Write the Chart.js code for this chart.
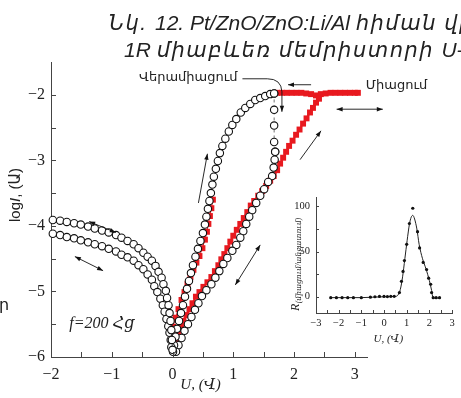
<!DOCTYPE html>
<html lang="hy">
<head>
<meta charset="UTF-8">
<title>Pt/ZnO/ZnO:Li/Al U-I</title>
<style>
  body { margin: 0; background: #fff; }
  #wrap { position: relative; width: 461px; height: 398px; overflow: hidden; background: #fff; }
  #mainChart { position: absolute; left: 0; top: 0; }
  #insetChart { position: absolute; left: 285px; top: 185px; }
</style>
</head>
<body>
<div id="wrap">
  <canvas id="mainChart" width="461" height="398"></canvas>
  <canvas id="insetChart" width="176" height="165"></canvas>
</div>
<script src="https://cdn.jsdelivr.net/npm/chart.js@4.4.1/dist/chart.umd.min.js"></script>
<script>
// negative sweep, two passes (circles)
const negUpX = [-1.97,-1.85,-1.74,-1.62,-1.51,-1.39,-1.28,-1.16,-1.05,-0.93,-0.84,-0.74,-0.64,-0.56,-0.48,-0.41,
                -0.34,-0.28,-0.23,-0.18,-0.15,-0.11,-0.09,-0.066,-0.049,-0.033,-0.020,-0.010,0];
const negUpY = [-3.91,-3.92,-3.94,-3.96,-3.98,-4.01,-4.04,-4.07,-4.10,-4.14,-4.18,-4.23,-4.28,-4.34,-4.41,-4.47,
                -4.53,-4.61,-4.70,-4.79,-4.89,-4.99,-5.10,-5.21,-5.33,-5.45,-5.59,-5.74,-5.89];
const negLowX = [-1.97,-1.85,-1.74,-1.62,-1.51,-1.39,-1.28,-1.16,-1.05,-0.93,-0.84,-0.74,-0.64,-0.56,-0.48,-0.41,
                 -0.34,-0.30,-0.25,-0.20,-0.16,-0.13,-0.10,-0.07,-0.05,-0.03,-0.02];
const negLowY = [-4.12,-4.14,-4.17,-4.19,-4.22,-4.25,-4.28,-4.31,-4.35,-4.39,-4.44,-4.48,-4.53,-4.60,-4.66,-4.74,
                 -4.82,-4.92,-5.01,-5.11,-5.21,-5.31,-5.42,-5.53,-5.63,-5.74,-5.85];

// positive sweep (circles): set branch, drop, reset branch
const setX = [0.008,0.025,0.049,0.074,0.107,0.139,0.172,0.205,0.238,0.270,0.303,0.336,0.377,0.418,0.459,0.5,
              0.533,0.557,0.582,0.607,0.631,0.656,0.680,0.713,0.746,0.779,0.820,0.869,0.926,0.984,1.049,1.123,
              1.197,1.279,1.361,1.443,1.525,1.607,1.672];
const setY = [-5.92,-5.82,-5.69,-5.57,-5.45,-5.33,-5.21,-5.08,-4.96,-4.84,-4.72,-4.60,-4.47,-4.35,-4.23,-4.11,
              -3.98,-3.86,-3.74,-3.62,-3.50,-3.37,-3.25,-3.13,-3.01,-2.89,-2.78,-2.67,-2.56,-2.46,-2.37,-2.27,
              -2.20,-2.14,-2.08,-2.05,-2.02,-1.99,-1.98];
const dropX = [1.672,1.672,1.672,1.672,1.689];
const dropY = [-1.98,-2.23,-2.47,-2.72,-2.87];
const resetX = [1.689,1.680,1.664,1.639,1.574,1.508,1.443,1.377,1.311,1.262,1.213,1.164,1.115,1.049,0.984,
                0.902,0.836,0.770,0.705,0.639,0.557,0.484,0.426,0.369,0.311,0.254,0.197,0.148,0.098,0.057];
const resetY = [-2.87,-2.99,-3.11,-3.24,-3.33,-3.44,-3.54,-3.65,-3.76,-3.86,-3.97,-4.08,-4.18,-4.29,-4.38,
                -4.49,-4.58,-4.69,-4.79,-4.89,-4.98,-5.07,-5.18,-5.28,-5.39,-5.50,-5.60,-5.71,-5.82,-5.92];

// red squares
const redRiseX = [0.033,0.066,0.098,0.139,0.180,0.230,0.279,0.328,0.385,0.443,0.508,0.574,0.639,0.697,0.754,
                  0.803,0.852,0.902,0.951,1.0,1.057,1.115,1.172,1.230,1.287,1.344,1.410,1.475,1.541,1.607,
                  1.664,1.721,1.770,1.820,1.869,1.918,1.975,2.033,2.090,2.148,2.205,2.262,2.311,2.361,2.410];
const redRiseY = [-5.82,-5.73,-5.63,-5.54,-5.45,-5.36,-5.27,-5.18,-5.08,-5.01,-4.93,-4.86,-4.78,-4.69,-4.60,
                  -4.51,-4.43,-4.34,-4.24,-4.15,-4.06,-3.97,-3.88,-3.79,-3.69,-3.62,-3.54,-3.47,-3.39,-3.31,
                  -3.24,-3.15,-3.05,-2.96,-2.87,-2.78,-2.70,-2.61,-2.53,-2.44,-2.36,-2.27,-2.20,-2.12,-2.06];
const redTopX = [1.72,1.80,1.88,1.96,2.04,2.12,2.20,2.28,2.36,2.44,2.52,2.60,2.68,2.76,2.84,2.92,3.00,3.05];
const redTopY = [-1.97,-1.97,-1.97,-1.97,-1.97,-1.97,-1.98,-1.99,-2.01,-1.99,-1.98,-1.97,-1.97,-1.97,-1.97,-1.97,-1.97,-1.97];
const redSteepX = [-0.016,0.008,0.049,0.098,0.148,0.197,0.246,0.295,0.344,0.393,0.443,0.492,0.533,0.566,0.590,0.615,0.639,0.664];
const redSteepY = [-5.66,-5.54,-5.40,-5.27,-5.13,-5.01,-4.89,-4.78,-4.67,-4.56,-4.46,-4.34,-4.21,-4.09,-3.97,-3.85,-3.73,-3.60];

// main axes ticks
const mainXTicks = [-2,-1,0,1,2,3];
const mainYTicks = [-6,-5,-4,-3,-2];
const mainXMinor = [-2,-1.5,-1,-0.5,0,0.5,1,1.5,2,2.5,3];
const mainYMinor = [-5.5,-5,-4.5,-4,-3.5,-3,-2.5,-2];

// inset: resistance ratio vs U
const insetDotX = [-2.35,-2.1,-1.85,-1.6,-1.35,-1.0,-0.6,-0.4,-0.2,0.0,0.15,0.3,0.45,0.68,0.77,0.84,0.9,1.0,1.12,1.27,
                   1.48,1.57,1.73,1.88,1.97,2.06,2.1,2.17,2.3,2.45];
const insetDotY = [-1,-1,-1,-1,-1,-1,-0.5,0,0.3,0.3,0.2,0.5,0.5,4.6,17,28,40,58,81,97.9,
                   72,54,38,30,20.5,13.8,4.6,-1,-1,-1];
const insetFitX = [-2.35,-1.0,0.0,0.5,0.62,0.72,0.82,0.92,1.02,1.12,1.2,1.27,1.35,1.45,1.55,1.7,1.85,2.0,2.1,2.16,2.2,2.45];
const insetFitY = [-1,-1,0,0.3,2,8,22,42,62,80,88,90,86,75,58,42,31,18,7,-1,-1.5,-1.5];
const insetXTicks = [-3,-2,-1,0,1,2,3];
const insetYTicks = [0,50,100];
const insetXMinor = [-3,-2.5,-2,-1.5,-1,-0.5,0,0.5,1,1.5,2,2.5,3];
const insetYMinor = [0,25,50,75,100];

// annotation arrows, in data units
const arrows = [
  { from: [2.28, -1.847], to: [1.90, -1.847], both: false },
  { from: [2.70, -2.22], to: [3.46, -2.22], both: true },
  { from: [2.098, -2.99], to: [2.443, -2.55], both: false },
  { from: [0.426, -3.65], to: [0.574, -2.90], both: false },
  { from: [1.033, -4.90], to: [1.443, -4.29], both: true },
  { from: [-1.372, -3.934], to: [-0.934, -4.102], both: true },
  { from: [-1.607, -4.468], to: [-1.143, -4.683], both: true }
];

const RED = '#e8191f';
const SANS = '"Liberation Sans", "DejaVu Sans", sans-serif';
const SERIF = '"Liberation Serif", "DejaVu Serif", serif';

const pts = (xs, ys) => xs.map((x, i) => ({ x: x, y: ys[i] }));
const fmtMinus = v => v < 0 ? '\u2212' + Math.abs(v) : String(v);

function arrowHead(ctx, x1, y1, x2, y2) {
  const a = Math.atan2(y2 - y1, x2 - x1), L = 6, W = 2.2;
  ctx.beginPath();
  ctx.moveTo(x2, y2);
  ctx.lineTo(x2 - L * Math.cos(a) + W * Math.sin(a), y2 - L * Math.sin(a) - W * Math.cos(a));
  ctx.lineTo(x2 - L * Math.cos(a) - W * Math.sin(a), y2 - L * Math.sin(a) + W * Math.cos(a));
  ctx.closePath();
  ctx.fill();
}

// draws text pieces one after another, each with its own letter spacing
function drawRuns(ctx, runs, x, y) {
  runs.forEach(r => {
    ctx.letterSpacing = r[1] + 'px';
    ctx.fillText(r[0], x, y);
    x += ctx.measureText(r[0]).width;
  });
  ctx.letterSpacing = '0px';
}
function runsWidth(ctx, runs) {
  let w = 0;
  runs.forEach(r => { ctx.letterSpacing = r[1] + 'px'; w += ctx.measureText(r[0]).width; });
  ctx.letterSpacing = '0px';
  return w;
}

const circleStyle = {
  showLine: true, borderColor: '#333', borderWidth: 0.7,
  pointStyle: 'circle', pointRadius: 3.7, pointBorderWidth: 1.1,
  pointBorderColor: '#111', pointBackgroundColor: '#fff', clip: 8, order: 1
};
const redStyle = {
  showLine: true, borderColor: RED, borderWidth: 2,
  pointStyle: 'rect', pointRadius: 4.2, pointBorderWidth: 0,
  pointBackgroundColor: RED, clip: 8, order: 5
};

const mainDecor = {
  id: 'mainDecor',
  afterDraw(chart) {
    const { ctx, chartArea: a, scales: { x, y } } = chart;
    const X = v => x.getPixelForValue(v), Y = v => y.getPixelForValue(v);
    ctx.save();
    ctx.strokeStyle = '#444';
    ctx.fillStyle = '#111';
    ctx.lineWidth = 1;

    // inward ticks
    ctx.beginPath();
    mainXMinor.forEach(v => { const px = Math.round(X(v)) + 0.5; ctx.moveTo(px, a.bottom); ctx.lineTo(px, a.bottom - 5); });
    mainYMinor.forEach(v => { const py = Math.round(Y(v)) + 0.5; ctx.moveTo(a.left, py); ctx.lineTo(a.left + 5, py); });
    ctx.stroke();

    // arrows
    ctx.strokeStyle = '#111';
    ctx.lineWidth = 0.9;
    arrows.forEach(ar => {
      const x1 = X(ar.from[0]), y1 = Y(ar.from[1]), x2 = X(ar.to[0]), y2 = Y(ar.to[1]);
      ctx.beginPath(); ctx.moveTo(x1, y1); ctx.lineTo(x2, y2); ctx.stroke();
      arrowHead(ctx, x1, y1, x2, y2);
      if (ar.both) arrowHead(ctx, x2, y2, x1, y1);
    });

    // leader from the reset label down to the drop
    ctx.beginPath();
    ctx.moveTo(X(1.15), Y(-1.756));
    ctx.lineTo(X(1.56), Y(-1.756));
    ctx.quadraticCurveTo(X(1.79), Y(-1.756), X(1.80), Y(-1.954));
    ctx.lineTo(X(1.80), Y(-2.26));
    ctx.stroke();
    arrowHead(ctx, X(1.80), Y(-2.1), X(1.80), Y(-2.26));

    // labels
    ctx.fillStyle = '#222';
    ctx.font = '13px ' + SANS;
    ctx.textBaseline = 'middle';
    ctx.textAlign = 'right';
    ctx.fillText('Վերամիացում', X(1.07), Y(-1.74));
    ctx.textAlign = 'left';
    ctx.fillText('Միացում', X(3.18), Y(-1.86));

    ctx.textBaseline = 'alphabetic';
    ctx.font = 'italic 16px ' + SERIF;
    ctx.fillText('f=200 Հց', X(-1.70), Y(-5.557));

    ctx.font = 'italic 15px ' + SERIF;
    ctx.textAlign = 'center';
    ctx.fillText('U, (Վ)', X(0.46), 389);

    // y axis title, rotated
    ctx.save();
    ctx.translate(20, 222);
    ctx.rotate(-Math.PI / 2);
    ctx.textAlign = 'left';
    ctx.font = '15px ' + SANS;
    ctx.fillText('log', 0, 0);
    let w = ctx.measureText('log').width;
    ctx.font = 'italic 15px ' + SANS;
    ctx.fillText('I', w, 0);
    w += ctx.measureText('I').width;
    ctx.font = '15px ' + SANS;
    ctx.fillText(', (Ա)', w, 0);
    ctx.restore();

    // caption lines
    ctx.textAlign = 'left';
    ctx.font = 'italic 21px ' + SANS;
    const head = [['Նկ. ', 1.5]];
    drawRuns(ctx, head.concat([['12. Pt/ZnO/ZnO:Li/Al ', 0], ['հիման վրա', 1.5]]),
             155 - runsWidth(ctx, head), 30);
    drawRuns(ctx, [['1R ', 0], ['միաբևեռ մեմրիստորի ', 1.5], ['U-I ', 0], ['բնութագիծը', 1.5]], 124, 57);

    ctx.font = '16px ' + SANS;
    ctx.fillText('ր', -1, 310);
    ctx.restore();
  }
};

new Chart(document.getElementById('mainChart'), {
  type: 'scatter',
  data: {
    datasets: [
      Object.assign({ data: pts(negUpX, negUpY) }, circleStyle),
      Object.assign({ data: pts(negLowX, negLowY) }, circleStyle),
      Object.assign({ data: pts(setX, setY) }, circleStyle),
      Object.assign({ data: pts(dropX, dropY) }, circleStyle, { borderDash: [3, 3], order: 2 }),
      Object.assign({ data: pts(resetX, resetY) }, circleStyle),
      Object.assign({ data: pts(redRiseX, redRiseY) }, redStyle),
      Object.assign({ data: pts(redTopX, redTopY) }, redStyle),
      Object.assign({ data: pts(redSteepX, redSteepY) }, redStyle, { borderWidth: 1 })
    ]
  },
  options: {
    responsive: false,
    animation: false,
    events: [],
    layout: { padding: { top: 62, right: 94, left: 0, bottom: 0 } },
    plugins: { legend: { display: false }, tooltip: { enabled: false } },
    scales: {
      x: {
        type: 'linear', min: -2, max: 3.2,
        afterFit: s => { s.height = 41; },
        afterBuildTicks: s => { s.ticks = mainXTicks.map(v => ({ value: v })); },
        grid: { display: false, drawTicks: false },
        border: { display: true, color: '#444', width: 1 },
        ticks: { padding: 8, color: '#222', font: { family: SERIF, size: 16 }, maxRotation: 0, callback: fmtMinus }
      },
      y: {
        type: 'linear', min: -6, max: -1.5,
        afterFit: s => { s.width = 51; },
        afterBuildTicks: s => { s.ticks = mainYTicks.map(v => ({ value: v })); },
        grid: { display: false, drawTicks: false },
        border: { display: true, color: '#444', width: 1 },
        ticks: { padding: 6, color: '#222', font: { family: SERIF, size: 16 }, callback: fmtMinus }
      }
    }
  },
  plugins: [mainDecor]
});

const insetDecor = {
  id: 'insetDecor',
  afterDraw(chart) {
    const { ctx, chartArea: a, scales: { x, y } } = chart;
    ctx.save();
    ctx.strokeStyle = '#444';
    ctx.lineWidth = 1;
    ctx.beginPath();
    insetXMinor.forEach(v => { const px = Math.round(x.getPixelForValue(v)) + 0.5; ctx.moveTo(px, a.bottom); ctx.lineTo(px, a.bottom - 3); });
    insetYMinor.forEach(v => { const py = Math.round(y.getPixelForValue(v)) + 0.5; ctx.moveTo(a.left, py); ctx.lineTo(a.left + 3, py); });
    ctx.stroke();

    ctx.fillStyle = '#222';
    ctx.font = 'italic 11px ' + SERIF;
    ctx.textAlign = 'center';
    ctx.fillText('U, (Վ)', x.getPixelForValue(0.19), a.bottom + 29);

    // rotated R label with subscript
    ctx.translate(14, 126);
    ctx.rotate(-Math.PI / 2);
    ctx.textAlign = 'left';
    ctx.font = 'italic 12px ' + SERIF;
    ctx.fillText('R', 0, 0);
    const rw = ctx.measureText('R').width;
    ctx.font = 'italic 7.5px ' + SERIF;
    ctx.fillText('(միացում/անջատում)', rw + 0.5, 2);
    ctx.restore();
  }
};

new Chart(document.getElementById('insetChart'), {
  type: 'scatter',
  data: {
    datasets: [
      { data: pts(insetDotX, insetDotY), pointStyle: 'circle', pointRadius: 1.6,
        pointBackgroundColor: '#111', pointBorderWidth: 0, showLine: false, clip: 6, order: 1 },
      { data: pts(insetFitX, insetFitY), showLine: true, borderColor: '#222', borderWidth: 1,
        cubicInterpolationMode: 'monotone', pointRadius: 0, clip: 6, order: 2 }
    ]
  },
  options: {
    responsive: false,
    animation: false,
    events: [],
    layout: { padding: { top: 8, right: 9, left: 0, bottom: 0 } },
    plugins: { legend: { display: false }, tooltip: { enabled: false } },
    scales: {
      x: {
        type: 'linear', min: -3, max: 3,
        afterFit: s => { s.height = 37; },
        afterBuildTicks: s => { s.ticks = insetXTicks.map(v => ({ value: v })); },
        grid: { display: false, drawTicks: false },
        border: { display: true, color: '#444', width: 1 },
        ticks: { padding: 4, color: '#222', font: { family: SERIF, size: 10.5 }, maxRotation: 0, callback: fmtMinus }
      },
      y: {
        type: 'linear', min: -18, max: 110,
        afterFit: s => { s.width = 31; },
        afterBuildTicks: s => { s.ticks = insetYTicks.map(v => ({ value: v })); },
        grid: { display: false, drawTicks: false },
        border: { display: true, color: '#444', width: 1 },
        ticks: { padding: 6, color: '#222', font: { family: SERIF, size: 10.5 }, callback: fmtMinus }
      }
    }
  },
  plugins: [insetDecor]
});
</script>
</body>
</html>
